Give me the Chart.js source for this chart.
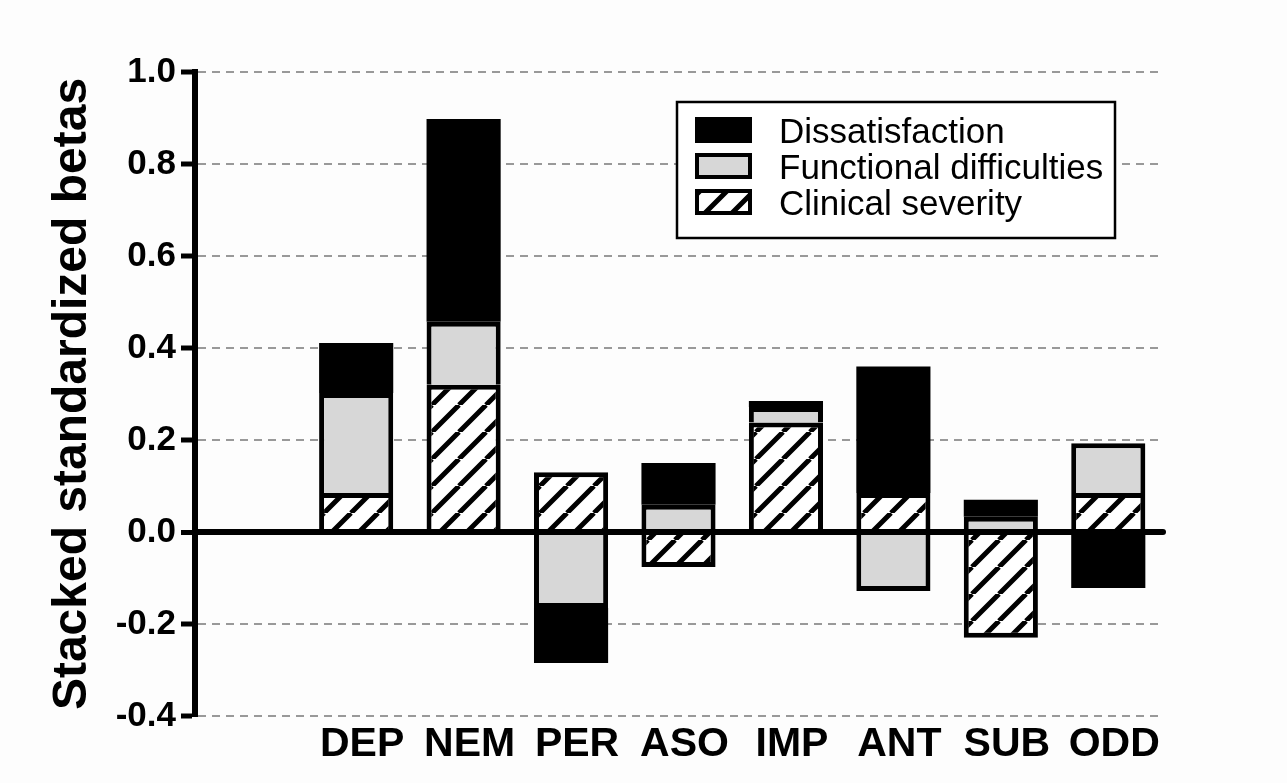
<!DOCTYPE html>
<html>
<head>
<meta charset="utf-8">
<script src="https://cdn.jsdelivr.net/npm/chart.js@4.4.1/dist/chart.umd.min.js"></script>
<style>
  html, body { margin: 0; padding: 0; background: #fdfdfd; }
  #wrap { width: 1287px; height: 783px; }
</style>
</head>
<body>
<div id="wrap"><canvas id="chart" width="1287" height="783"></canvas></div>
<script>
var categories = ["", "DEP", "NEM", "PER", "ASO", "IMP", "ANT", "SUB", "ODD"];
var clinical = [null, 0.085, 0.32, 0.13, -0.076, 0.238, 0.085, -0.23, 0.085];
var functional = [null, 0.217, 0.137, -0.165, 0.059, 0.034, -0.128, 0.033, 0.108];
var dissatisfaction = [null, 0.109, 0.441, -0.12, 0.091, 0.013, 0.275, 0.037, -0.122];
var yTicks = [-0.4, -0.2, 0.0, 0.2, 0.4, 0.6, 0.8, 1.0];

var fontFamily = "'Liberation Sans', Arial, Helvetica, sans-serif";

// diagonal hatch for clinical severity
function makeHatch() {
  var s = 27;
  var c = document.createElement("canvas");
  c.width = s;
  c.height = s;
  var g = c.getContext("2d");
  g.fillStyle = "#ffffff";
  g.fillRect(0, 0, s, s);
  g.strokeStyle = "#000000";
  g.lineWidth = 5;
  g.beginPath();
  for (var k = -1; k <= 1; k++) {
    g.moveTo(k * s, s);
    g.lineTo(k * s + s, 0);
  }
  g.stroke();
  return g.createPattern(c, "repeat");
}

var ctx = document.getElementById("chart").getContext("2d");
var hatch = makeHatch();

// thick zero line drawn over the bars
var zeroLine = {
  id: "zeroLine",
  afterDatasetsDraw: function (chart) {
    var y = chart.scales.y.getPixelForValue(0);
    var area = chart.chartArea;
    var c = chart.ctx;
    c.save();
    c.strokeStyle = "#000";
    c.lineWidth = 6;
    c.lineCap = "round";
    c.beginPath();
    c.moveTo(area.left, y);
    c.lineTo(area.right + 1, y);
    c.stroke();
    c.restore();
  },
};

// boxed legend, top to bottom in reverse dataset order
var boxLegend = {
  id: "boxLegend",
  afterDraw: function (chart) {
    var c = chart.ctx;
    var x = 677, y = 102, w = 438, h = 136;
    c.save();
    c.fillStyle = "#ffffff";
    c.fillRect(x, y, w, h);
    c.strokeStyle = "#000";
    c.lineWidth = 2.5;
    c.strokeRect(x, y, w, h);
    var sets = chart.data.datasets.slice().reverse();
    sets.forEach(function (ds, i) {
      var top = 117 + i * 36;
      c.fillStyle = ds.backgroundColor;
      c.fillRect(695, top, 57, 26);
      c.lineWidth = 4;
      c.strokeStyle = "#000";
      c.strokeRect(697, top + 2, 53, 22);
      c.fillStyle = "#000";
      c.font = "35px " + fontFamily;
      c.textBaseline = "alphabetic";
      c.fillText(ds.label, 779, top + 26);
    });
    c.restore();
  },
};

var chart = new Chart(ctx, {
  type: "bar",
  data: {
    labels: categories,
    datasets: [
      {
        label: "Clinical severity",
        data: clinical,
        backgroundColor: hatch,
      },
      {
        label: "Functional difficulties",
        data: functional,
        backgroundColor: "#d7d7d7",
      },
      {
        // solid black, so no outline needed
        label: "Dissatisfaction",
        data: dissatisfaction,
        backgroundColor: "#000000",
        borderWidth: 0,
      },
    ],
  },
  options: {
    responsive: false,
    animation: false,
    layout: { padding: { top: 72, right: 125, bottom: 0, left: 0 } },
    datasets: {
      bar: {
        borderColor: "#000",
        borderWidth: 5,
        barPercentage: 0.69,
        categoryPercentage: 1,
      },
    },
    plugins: {
      legend: { display: false },
      tooltip: { enabled: false },
    },
    scales: {
      x: {
        stacked: true,
        grid: { display: false },
        border: { display: false },
        ticks: {
          color: "#000",
          padding: 0,
          labelOffset: 6,
          maxRotation: 0,
          autoSkip: false,
          font: { family: fontFamily, size: 41, weight: "bold", lineHeight: 1 },
        },
        afterFit: function (scale) {
          scale.height = 67;
        },
      },
      y: {
        stacked: true,
        min: -0.4,
        max: 1.0,
        afterBuildTicks: function (scale) {
          scale.ticks = yTicks.map(function (v) {
            return { value: v };
          });
        },
        ticks: {
          color: "#000",
          padding: 5,
          font: { family: fontFamily, size: 35, weight: "bold" },
          callback: function (v) {
            return Number(v).toFixed(1);
          },
        },
        grid: {
          color: function (c) {
            return c.tick && c.tick.value === 0 ? "#000" : "#999";
          },
          lineWidth: function (c) {
            return c.tick && c.tick.value === 0 ? 5 : 2;
          },
          tickColor: "#000",
          tickWidth: 5,
          tickLength: 14,
        },
        border: {
          display: true,
          color: "#000",
          width: 6,
          dash: function (c) {
            return c.tick && c.tick.value !== 0 ? [8, 6] : [];
          },
        },
        title: {
          display: true,
          text: "Stacked standardized betas",
          color: "#000",
          padding: { top: 44, bottom: 0 },
          font: { family: fontFamily, size: 48, weight: "bold" },
        },
        afterFit: function (scale) {
          scale.width = 195;
        },
      },
    },
  },
  plugins: [zeroLine, boxLegend],
});
</script>
</body>
</html>
